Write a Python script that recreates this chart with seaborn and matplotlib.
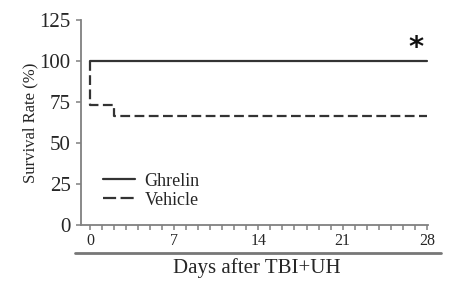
import numpy as np
import pandas as pd
import matplotlib
matplotlib.use('Agg')
import matplotlib.pyplot as plt
import seaborn as sns
from matplotlib.lines import Line2D
from matplotlib.ticker import MultipleLocator

# Survival data (step curves)
ghrelin_days = [0, 28]
ghrelin_surv = [100.0, 100.0]
vehicle_days = [0, 0, 2, 28]
vehicle_surv = [100.0, 73.3, 66.7, 66.7]

groups = ['Ghrelin', 'Vehicle']
y_ticks = [0, 25, 50, 75, 100, 125]
x_ticks = [0, 7, 14, 21, 28]

df = pd.concat([
    pd.DataFrame({'day': ghrelin_days, 'survival': ghrelin_surv, 'group': 'Ghrelin'}),
    pd.DataFrame({'day': vehicle_days, 'survival': vehicle_surv, 'group': 'Vehicle'}),
], ignore_index=True)

sns.set_style('ticks')
plt.rcParams['font.family'] = ['Liberation Serif', 'DejaVu Serif']

fig = plt.figure(figsize=(4.53, 2.85), dpi=100)
ax = fig.add_axes([81 / 453, 1 - 225 / 285, 347 / 453, 205 / 285])

line_col = '#333333'
sns.lineplot(data=df, x='day', y='survival', style='group', style_order=groups,
             dashes={'Ghrelin': '', 'Vehicle': (4.4, 2.0)}, color=line_col,
             estimator=None, sort=False, drawstyle='steps-post', lw=1.6, ax=ax)

ax.set_xlim(-0.75, 28.1)
ax.set_ylim(0, 125)
ax.set_yticks(y_ticks)
ax.set_xticks(x_ticks)
ax.xaxis.set_minor_locator(MultipleLocator(1))

spine_col = '#808080'
sns.despine(ax=ax)
for s in ['left', 'bottom']:
    ax.spines[s].set_color(spine_col)
    ax.spines[s].set_linewidth(1.3)
ax.tick_params(axis='y', which='major', length=3.5, width=1.1, color=spine_col, labelsize=15, pad=4)
ax.tick_params(axis='x', which='both', length=3.5, width=1.1, color=spine_col, labelsize=11.5, pad=2)

ax.set_ylabel('Survival Rate (%)', fontsize=12, va='center')
ax.yaxis.set_label_coords(-0.147, 0.5)
ax.set_xlabel('Days after TBI+UH', fontsize=15, va='center')
ax.xaxis.set_label_coords(0.507, -0.21)

# significance marker
ax.text(27.1, 108, '*', fontsize=21, family='DejaVu Sans', fontweight='bold',
        ha='center', va='center', color='#111111')

handles = [Line2D([], [], color=line_col, lw=1.6),
           Line2D([], [], color=line_col, lw=1.6, dashes=(5.9, 2.0))]
ax.legend(handles, groups, loc='upper left', bbox_to_anchor=(0.063, 0.255), frameon=False,
          fontsize=13, borderpad=0, borderaxespad=0, handlelength=1.77, handletextpad=0.55,
          labelspacing=0.1)

# separator line above the x-axis title
fig.add_artist(Line2D([75 / 453, 441 / 453], [1 - 253 / 285] * 2, transform=fig.transFigure,
                      color='#777777', lw=2))

fig.savefig('out.png', dpi=100)
